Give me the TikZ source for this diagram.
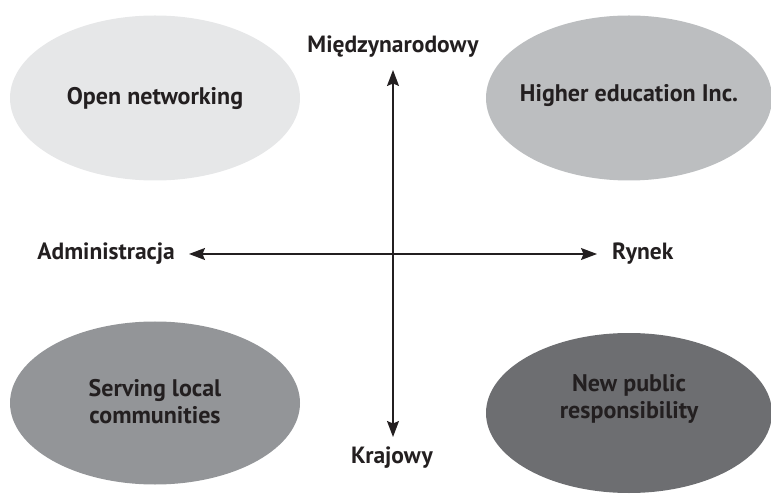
\documentclass[tikz,border=0pt]{standalone}
\usepackage{fontspec}
\setmainfont{PT Sans}
\usetikzlibrary{shapes.geometric,arrows.meta}
\definecolor{c1}{HTML}{E6E7E8}
\definecolor{c2}{HTML}{BCBEC0}
\definecolor{c3}{HTML}{939598}
\definecolor{c4}{HTML}{6D6E71}
\definecolor{txt}{HTML}{231F20}
\tikzset{
  blob/.style={ellipse, minimum width=290pt, minimum height=165pt, inner sep=0pt},
  btext/.style={align=center, font=\fontsize{24}{27}\selectfont\bfseries, text=txt, inner sep=0pt},
  lab/.style={font=\fontsize{23.5}{26}\selectfont\bfseries, text=txt, inner sep=0pt},
  axis/.style={line width=1.3pt, draw=txt, {Stealth[length=16pt,width=12pt,inset=2.5pt]}-{Stealth[length=16pt,width=12pt,inset=2.5pt]}}
}
\begin{document}
\begin{tikzpicture}[x=1pt,y=-1pt]
\useasboundingbox (0,0) rectangle (771,494);
\node[blob, fill=c1] (on) at (155,98) {};
\node[blob, fill=c2, minimum width=286pt] (he) at (629,98) {};
\node[blob, fill=c3, minimum height=163pt] (sl) at (155,403) {};
\node[blob, fill=c4, minimum width=286pt, minimum height=160pt] (np) at (629,413) {};
\node[btext] (ont) at (155,98) {Open networking};
\node[btext] (het) at (629,96) {Higher education Inc.};
\node[btext] (slt) at (155,402) {Serving local\\communities};
\node[btext] (npt) at (629,399) {New public\\responsibility};
\node[lab] (mi) at (393,47) {Międzynarodowy};
\node[lab] (kr) at (392,458) {Krajowy};
\node[lab, anchor=east] (ad) at (175,254) {Administracja};
\node[lab, anchor=west] (ry) at (612,254) {Rynek};
\coordinate (top) at (393,70);
\coordinate (bot) at (393,437);
\coordinate (lft) at (189,254);
\coordinate (rgt) at (597,254);
\draw[axis] (top) -- (bot);
\draw[axis] (lft) -- (rgt);
\end{tikzpicture}
\end{document}
